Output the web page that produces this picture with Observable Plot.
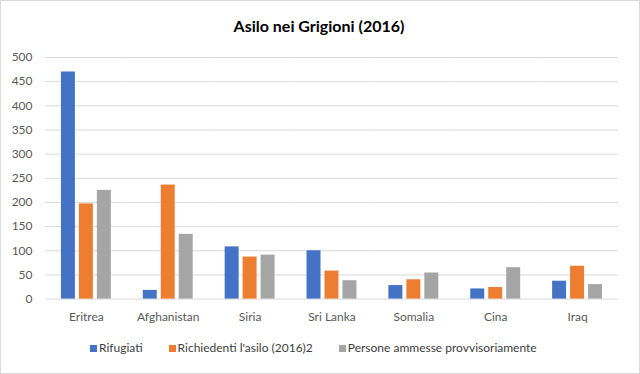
<!DOCTYPE html>
<html>
<head>
<meta charset="utf-8">
<script src="https://cdn.jsdelivr.net/npm/d3@7"></script>
<script src="https://cdn.jsdelivr.net/npm/@observablehq/plot@0.6"></script>
<style>
  html, body { margin: 0; padding: 0; background: #fff; }
  #frame { position: relative; width: 640px; height: 374px; box-sizing: border-box; border: 1px solid #d9d9d9; background: #fff; overflow: hidden; font-family: Lato, "Open Sans", sans-serif; }
  #title { position: absolute; left: 0; width: 636px; top: 15px; text-align: center; font-weight: bold; font-size: 16px; color: #000; line-height: 20px; }
  #chart { position: absolute; left: -1px; top: 45px; }
  #legend { position: absolute; left: 89px; top: 339px; display: flex; align-items: center; font-size: 12px; color: #404040; line-height: 16px; }
  .item { display: flex; align-items: center; margin-right: 26px; }
  .sw { width: 7px; height: 7px; margin-right: 2px; }
</style>
</head>
<body>
<div id="frame">
  <div id="title">Asilo nei Grigioni (2016)</div>
  <div id="chart"></div>
  <div id="legend"></div>
</div>
<script>
const categories = ["Eritrea", "Afghanistan", "Siria", "Sri Lanka", "Somalia", "Cina", "Iraq"];
const series = ["Rifugiati", "Richiedenti l'asilo (2016)2", "Persone ammesse provvisoriamente"];
const rifugiati = [470, 18, 108, 100, 28, 21, 37];
const richiedenti = [197, 236, 87, 58, 40, 24, 68];
const ammesse = [225, 134, 91, 38, 54, 65, 30];
const yTicks = [0, 50, 100, 150, 200, 250, 300, 350, 400, 450, 500];
const colors = ["#4472C4", "#ED7D31", "#A5A5A5"];

const seriesValues = [rifugiati, richiedenti, ammesse];
const data = [];
categories.forEach((c, i) => {
  series.forEach((s, j) => data.push({category: c, series: s, value: seriesValues[j][i]}));
});

const chart = Plot.plot({
  width: 640,
  height: 282,
  marginTop: 11,
  marginBottom: 29,
  marginLeft: 44,
  marginRight: 20,
  style: {fontFamily: "Lato, 'Open Sans', sans-serif", fontSize: "12px", color: "#595959", background: "transparent"},
  fx: {domain: categories, paddingInner: 0, paddingOuter: 0, label: null, axis: "bottom", tickSize: 0, tickPadding: 13},
  x: {domain: series, axis: null, paddingInner: 0.22, paddingOuter: 0.885},
  y: {domain: [0, 500], ticks: yTicks, label: null, tickSize: 0, tickPadding: 13, tickFormat: d => String(d)},
  color: {domain: series, range: colors},
  marks: [
    Plot.ruleY(yTicks, {stroke: "#d9d9d9", strokeWidth: 1}),
    Plot.barY(data, {fx: "category", x: "series", y: "value", fill: "series"})
  ]
});
document.getElementById("chart").appendChild(chart);

const legend = document.getElementById("legend");
series.forEach((s, i) => {
  const item = document.createElement("div");
  item.className = "item";
  const sw = document.createElement("div");
  sw.className = "sw";
  sw.style.background = colors[i];
  const t = document.createElement("span");
  t.textContent = s;
  item.appendChild(sw);
  item.appendChild(t);
  legend.appendChild(item);
});
</script>
</body>
</html>
